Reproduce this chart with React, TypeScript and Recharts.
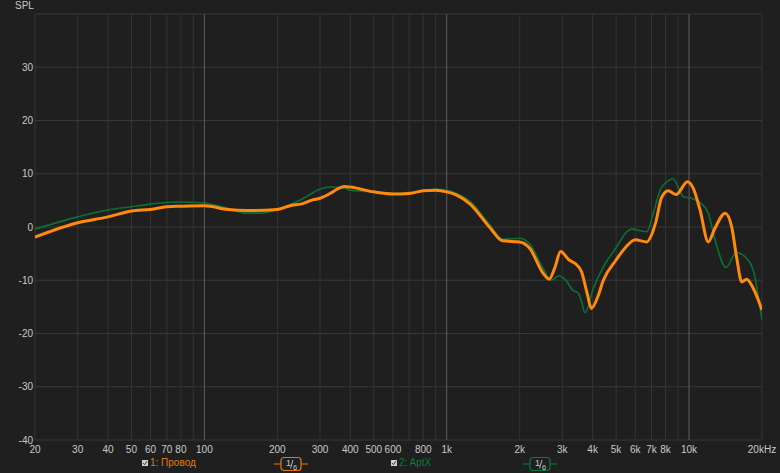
import React from "react";
import { LineChart, Line, XAxis, YAxis, ReferenceLine } from "recharts";

// ---- data ----
const providoFreq = [20, 30, 40, 50, 60, 70, 80, 100, 125, 150, 200, 230, 250, 280, 300, 330, 360, 380, 400, 500, 600, 700, 800, 900, 1000, 1100, 1250, 1500, 1700, 2000, 2200, 2500, 2650, 2800, 2950, 3200, 3400, 3600, 3800, 3950, 4200, 4430, 5000, 5500, 6000, 6700, 7000, 7300, 7700, 8200, 8850, 9850, 10400, 11100, 12000, 12800, 14100, 15000, 15700, 16500, 17300, 18400, 20000];
const providoDb = [-1.9, 0.8, 1.9, 3.0, 3.3, 3.8, 3.9, 4.0, 3.3, 3.1, 3.3, 4.1, 4.3, 5.1, 5.4, 6.3, 7.3, 7.6, 7.5, 6.6, 6.2, 6.3, 6.8, 6.9, 6.6, 6.0, 4.3, 0.0, -2.6, -2.8, -4.0, -8.7, -9.8, -7.5, -4.6, -6.2, -6.9, -8.4, -12.5, -15.3, -13.1, -10.0, -6.2, -3.7, -2.4, -2.8, -1.5, 1.0, 5.5, 6.8, 6.1, 8.5, 7.3, 3.2, -2.8, -0.2, 2.6, 0.0, -5.6, -10.3, -9.8, -11.5, -15.6];

const aptxFreq = [20, 30, 40, 50, 60, 70, 80, 100, 125, 150, 170, 200, 250, 300, 330, 380, 400, 500, 600, 700, 800, 900, 1000, 1100, 1250, 1500, 1700, 2000, 2200, 2500, 2700, 2900, 3100, 3300, 3500, 3600, 3720, 4030, 4430, 5030, 5530, 5800, 6690, 7120, 7600, 8220, 8570, 9470, 10260, 10930, 12000, 12800, 14220, 15640, 17300, 18400, 20000];
const aptxDb = [-0.4, 1.9, 3.2, 3.8, 4.3, 4.6, 4.7, 4.5, 3.5, 2.6, 2.6, 3.3, 5.1, 7.1, 7.5, 7.3, 6.9, 6.6, 6.3, 6.5, 6.8, 7.1, 6.9, 6.3, 4.8, 0.5, -2.3, -2.1, -3.2, -7.8, -10.0, -9.2, -10.0, -11.8, -12.5, -14.0, -16.1, -11.5, -7.5, -3.7, -0.9, -0.4, -0.9, 2.6, 6.9, 8.7, 9.1, 5.7, 5.4, 4.8, 2.6, -2.4, -7.6, -4.8, -5.9, -8.1, -17.5];

const xTicks = [20, 30, 40, 50, 60, 70, 80, 100, 200, 300, 400, 500, 600, 800, 1000, 2000, 3000, 4000, 5000, 6000, 7000, 8000, 10000, 20000];
const xTickLabels = ["20", "30", "40", "50", "60", "70", "80", "100", "200", "300", "400", "500", "600", "800", "1k", "2k", "3k", "4k", "5k", "6k", "7k", "8k", "10k", "20kHz"];
const minorGridFreqs = [20, 30, 40, 50, 60, 70, 80, 90, 200, 300, 400, 500, 600, 700, 800, 900, 2000, 3000, 4000, 5000, 6000, 7000, 8000, 9000, 20000];
const majorGridFreqs = [100, 1000, 10000];
const yTicks = [-40, -30, -20, -10, 0, 10, 20, 30];
const yGrid = [-40, -30, -20, -10, 0, 10, 20, 30, 40];

const seriesNames = ["1: Провод", "2: AptX"];

const providoData = providoFreq.map((f, i) => ({ f, db: providoDb[i] }));
const aptxData = aptxFreq.map((f, i) => ({ f, db: aptxDb[i] }));

const ORANGE = "#ff8a0c";
const GREEN = "#0c7036";
const BG = "#1f1f1f";
const TEXT = "#c9c9c9";
const FONT = "'Liberation Sans', Arial, sans-serif";

const fmtX = (v: number) => {
  const i = xTicks.indexOf(v);
  return i >= 0 ? xTickLabels[i] : "";
};

function Check({ x }: { x: number }) {
  return (
    <div style={{ position: "absolute", left: x, top: 460, width: 6, height: 6, background: "#cfcfcf" }}>
      <svg width={6} height={6} style={{ position: "absolute", left: 0, top: 0 }}>
        <path d="M1 3 L2.5 4.7 L5 1.2" stroke="#333" strokeWidth={1} fill="none" />
      </svg>
    </div>
  );
}

function Frac({ x, color }: { x: number; color: string }) {
  return (
    <svg width={34} height={16} style={{ position: "absolute", left: x, top: 456 }}>
      <line x1={0} y1={8} x2={34} y2={8} stroke={color} strokeWidth={1.2} />
      <rect x={7} y={1.5} width={20} height={13} rx={3} ry={3} fill={BG} stroke={color} strokeWidth={1.2} />
      <text x={12} y={10} fill={TEXT} fontSize={9} fontFamily={FONT}>1</text>
      <line x1={16.5} y1={12.5} x2={19} y2={4} stroke={TEXT} strokeWidth={0.9} />
      <text x={19} y={13.5} fill={TEXT} fontSize={7.5} fontFamily={FONT}>6</text>
    </svg>
  );
}

export default function App() {
  return (
    <div style={{ position: "absolute", left: 0, top: 0, width: 780, height: 473, background: BG, fontFamily: FONT }}>
      <LineChart
        width={780}
        height={473}
        margin={{ top: 14, right: 18, left: 0, bottom: 0 }}
        style={{ background: BG }}
      >
        <XAxis
          dataKey="f"
          type="number"
          scale="log"
          domain={[20, 20000]}
          allowDataOverflow
          ticks={xTicks}
          tickFormatter={fmtX}
          interval={0}
          axisLine={false}
          tickLine={false}
          tickSize={0}
          tickMargin={6}
          height={33}
          tick={{ fill: TEXT, fontSize: 10, fontFamily: FONT }}
        />
        <YAxis
          type="number"
          domain={[-40, 40]}
          ticks={yTicks}
          interval={0}
          axisLine={false}
          tickLine={false}
          tickSize={0}
          tickMargin={2}
          width={35}
          tick={{ fill: TEXT, fontSize: 10, fontFamily: FONT }}
        />
        {yGrid.map((v) => (
          <ReferenceLine key={"y" + v} y={v} stroke="#383838" strokeWidth={1} ifOverflow="extendDomain" />
        ))}
        {minorGridFreqs.map((v) => (
          <ReferenceLine key={"xm" + v} x={v} stroke="#343434" strokeWidth={1} />
        ))}
        {majorGridFreqs.map((v) => (
          <ReferenceLine key={"xM" + v} x={v} stroke="#5e5e5e" strokeWidth={1} />
        ))}
        <Line
          data={aptxData}
          dataKey="db"
          name={seriesNames[1]}
          type="monotone"
          stroke={GREEN}
          strokeWidth={1.6}
          dot={false}
          isAnimationActive={false}
        />
        <Line
          data={providoData}
          dataKey="db"
          name={seriesNames[0]}
          type="monotone"
          stroke={ORANGE}
          strokeWidth={3}
          dot={false}
          isAnimationActive={false}
        />
      </LineChart>
      <div style={{ position: "absolute", left: 15, top: 0, color: TEXT, fontSize: 10, fontFamily: FONT }}>SPL</div>
      <Check x={142} />
      <div style={{ position: "absolute", left: 150, top: 457, color: "#e07a10", fontSize: 10, fontFamily: FONT }}>{seriesNames[0]}</div>
      <Frac x={274} color="#e07a10" />
      <Check x={391} />
      <div style={{ position: "absolute", left: 399, top: 457, color: "#0c7a3a", fontSize: 10, fontFamily: FONT }}>{seriesNames[1]}</div>
      <Frac x={523} color="#0c7a3a" />
    </div>
  );
}
